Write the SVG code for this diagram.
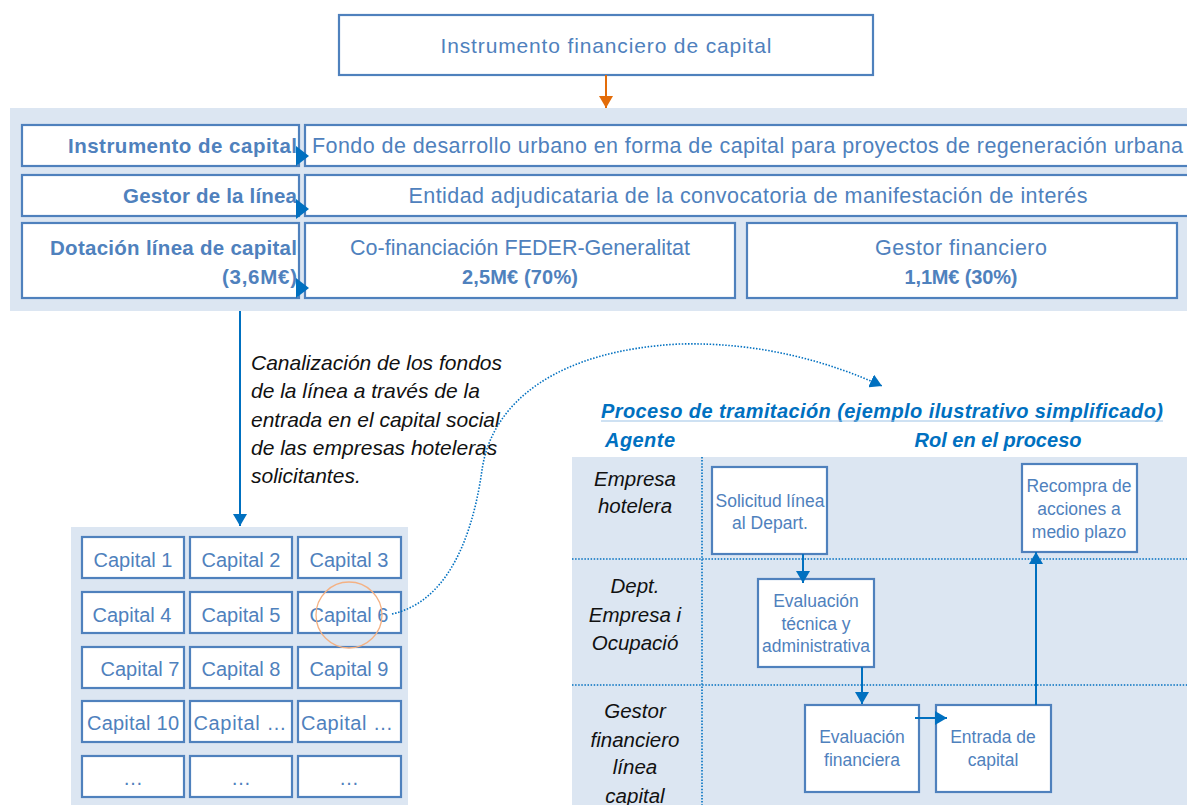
<svg xmlns="http://www.w3.org/2000/svg" width="1187" height="805" viewBox="0 0 1187 805">
<defs>
<style>
.bg{fill:#dce6f2}
.box{fill:#fff;stroke:#4f81bd;stroke-width:2.2}
.t{font-family:"Liberation Sans",Arial,sans-serif;fill:#4f81bd}
.b{font-weight:bold}
.it{font-family:"Liberation Sans",Arial,sans-serif;font-style:italic;fill:#111}
.ti{font-family:"Liberation Sans",Arial,sans-serif;font-style:italic;font-weight:bold;fill:#0070c0}
.cell{font-size:20px}
.pt{font-size:17.5px}
.dot{stroke:#0070c0;stroke-width:1.6;stroke-dasharray:1.5 1.6;fill:none}
.con{stroke:#0070c0;stroke-width:2;fill:none}
</style>
<marker id="ab" viewBox="0 0 12 14" refX="12" refY="7" markerWidth="12" markerHeight="14" markerUnits="userSpaceOnUse" orient="auto"><path d="M0,0 L12,7 L0,14 z" fill="#0070c0"/></marker>
<marker id="ao" viewBox="0 0 12 14" refX="12" refY="7" markerWidth="13" markerHeight="14" markerUnits="userSpaceOnUse" orient="auto"><path d="M0,0 L12,7 L0,14 z" fill="#e36c09"/></marker>
</defs>

<g id="top-node">
<rect class="box" x="339" y="15" width="534" height="60"/>
<text class="t" x="606" y="53" font-size="21" text-anchor="middle" textLength="331">Instrumento financiero de capital</text>
</g>

<g id="header-panel">
<rect class="bg" x="10" y="108" width="1180" height="203"/>
</g>

<g id="row-instrumento">
<rect class="box" x="22" y="125" width="277" height="41"/>
<text class="t b" x="297" y="153" font-size="20.5" text-anchor="end" textLength="229">Instrumento de capital</text>
<rect class="box" x="305" y="125" width="890" height="41"/>
<text class="t" x="312" y="153" font-size="21.5" textLength="871">Fondo de desarrollo urbano en forma de capital para proyectos de regeneración urbana</text>
</g>

<g id="row-gestor">
<rect class="box" x="22" y="175" width="277" height="41"/>
<text class="t b" x="297" y="203" font-size="20.5" text-anchor="end" textLength="174">Gestor de la línea</text>
<rect class="box" x="305" y="175" width="890" height="41"/>
<text class="t" x="748" y="203" font-size="21.5" text-anchor="middle" textLength="679">Entidad adjudicataria de la convocatoria de manifestación de interés</text>
</g>

<g id="row-dotacion">
<rect class="box" x="22" y="223" width="277" height="75"/>
<text class="t b" x="297" y="255" font-size="20.5" text-anchor="end" textLength="247">Dotación línea de capital</text>
<text class="t b" x="297" y="284" font-size="20.5" text-anchor="end" textLength="75">(3,6M€)</text>
</g>

<g id="cofinanciacion">
<rect class="box" x="305" y="223" width="430" height="75"/>
<text class="t" x="520" y="255" font-size="21.5" text-anchor="middle" textLength="340">Co-financiación FEDER-Generalitat</text>
<text class="t b" x="520" y="284" font-size="20" text-anchor="middle" textLength="116">2,5M€ (70%)</text>
</g>

<g id="gestor-financiero">
<rect class="box" x="747" y="223" width="430" height="75"/>
<text class="t" x="961" y="255" font-size="21.5" text-anchor="middle" textLength="172">Gestor financiero</text>
<text class="t b" x="961" y="284" font-size="20" text-anchor="middle" textLength="113">1,1M€ (30%)</text>
</g>

<g id="canalizacion-text">
<text class="it" font-size="21">
<tspan x="251" y="370">Canalización de los fondos</tspan>
<tspan x="251" y="398">de la línea a través de la</tspan>
<tspan x="251" y="427">entrada en el capital social</tspan>
<tspan x="251" y="455">de las empresas hoteleras</tspan>
<tspan x="251" y="483">solicitantes.</tspan>
</text>
</g>

<g id="capital-grid">
<rect class="bg" x="71" y="527" width="337" height="280"/>
<rect class="box" x="82" y="537" width="102" height="41"/><text class="t cell" x="133" y="567" text-anchor="middle">Capital 1</text>
<rect class="box" x="190" y="537" width="102" height="41"/><text class="t cell" x="241" y="567" text-anchor="middle">Capital 2</text>
<rect class="box" x="298" y="537" width="103" height="41"/><text class="t cell" x="349" y="567" text-anchor="middle">Capital 3</text>
<rect class="box" x="82" y="592" width="102" height="41"/><text class="t cell" x="132" y="622" text-anchor="middle">Capital 4</text>
<rect class="box" x="190" y="592" width="102" height="41"/><text class="t cell" x="241" y="622" text-anchor="middle">Capital 5</text>
<rect class="box" x="298" y="592" width="103" height="41"/><text class="t cell" x="349" y="622" text-anchor="middle">Capital 6</text>
<rect class="box" x="82" y="647" width="102" height="41"/><text class="t cell" x="140" y="676" text-anchor="middle">Capital 7</text>
<rect class="box" x="190" y="647" width="102" height="41"/><text class="t cell" x="241" y="676" text-anchor="middle">Capital 8</text>
<rect class="box" x="298" y="647" width="103" height="41"/><text class="t cell" x="349" y="676" text-anchor="middle">Capital 9</text>
<rect class="box" x="82" y="701" width="102" height="41"/><text class="t cell" x="133" y="730" text-anchor="middle" textLength="92">Capital 10</text>
<rect class="box" x="190" y="701" width="102" height="41"/><text class="t cell" x="240" y="730" text-anchor="middle" textLength="93">Capital …</text>
<rect class="box" x="298" y="701" width="103" height="41"/><text class="t cell" x="347" y="730" text-anchor="middle" textLength="92">Capital …</text>
<rect class="box" x="82" y="756" width="102" height="41"/><text class="t cell" x="133" y="785" text-anchor="middle">…</text>
<rect class="box" x="190" y="756" width="102" height="41"/><text class="t cell" x="241" y="785" text-anchor="middle">…</text>
<rect class="box" x="298" y="756" width="103" height="41"/><text class="t cell" x="349" y="785" text-anchor="middle">…</text>
<circle cx="349" cy="615" r="33" fill="none" stroke="#f4b183" stroke-width="1.3"/>
</g>

<g id="process-header">
<text class="ti" x="601" y="418" font-size="20" textLength="562">Proceso de tramitación (ejemplo ilustrativo simplificado)</text>
<line x1="601" y1="421" x2="1163" y2="421" stroke="#9dc3e6" stroke-width="1"/>
<text class="ti" x="605" y="447" font-size="20" textLength="70">Agente</text>
<text class="ti" x="998" y="447" font-size="20" text-anchor="middle" textLength="167">Rol en el proceso</text>
</g>

<g id="process-panel">
<rect class="bg" x="572" y="457" width="620" height="350"/>
<line class="dot" x1="702" y1="457" x2="702" y2="805"/>
<line class="dot" x1="572" y1="559" x2="1187" y2="559"/>
<line class="dot" x1="572" y1="685" x2="1187" y2="685"/>
</g>

<g id="agent-empresa">
<text class="it" font-size="20.5" text-anchor="middle"><tspan x="635" y="486">Empresa</tspan><tspan x="635" y="513">hotelera</tspan></text>
</g>
<g id="agent-dept">
<text class="it" font-size="20.5" text-anchor="middle"><tspan x="635" y="593">Dept.</tspan><tspan x="635" y="622">Empresa i</tspan><tspan x="635" y="650">Ocupació</tspan></text>
</g>
<g id="agent-gestor">
<text class="it" font-size="20.5" text-anchor="middle"><tspan x="635" y="718">Gestor</tspan><tspan x="635" y="747">financiero</tspan><tspan x="635" y="774">línea</tspan><tspan x="635" y="803">capital</tspan></text>
</g>

<g id="solicitud">
<rect class="box" x="712" y="467" width="115" height="87"/>
<text class="t pt" text-anchor="middle"><tspan x="770" y="507">Solicitud línea</tspan><tspan x="770" y="529">al Depart.</tspan></text>
</g>
<g id="evaluacion-tecnica">
<rect class="box" x="758" y="579" width="116" height="88"/>
<text class="t pt" text-anchor="middle"><tspan x="816" y="607">Evaluación</tspan><tspan x="816" y="630">técnica y</tspan><tspan x="816" y="652">administrativa</tspan></text>
</g>
<g id="evaluacion-financiera">
<rect class="box" x="805" y="705" width="114" height="87"/>
<text class="t pt" text-anchor="middle"><tspan x="862" y="743">Evaluación</tspan><tspan x="862" y="766">financiera</tspan></text>
</g>
<g id="entrada-capital">
<rect class="box" x="936" y="705" width="115" height="87"/>
<text class="t pt" text-anchor="middle"><tspan x="993" y="743">Entrada de</tspan><tspan x="993" y="766">capital</tspan></text>
</g>
<g id="recompra">
<rect class="box" x="1022" y="464" width="115" height="88"/>
<text class="t pt" text-anchor="middle"><tspan x="1079" y="492">Recompra de</tspan><tspan x="1079" y="515">acciones a</tspan><tspan x="1079" y="538">medio plazo</tspan></text>
</g>

<g id="connectors">
<line x1="606" y1="75" x2="606" y2="108" stroke="#e36c09" stroke-width="2" marker-end="url(#ao)"/>
<polygon points="296,146 309,156 296,166" fill="#0070c0"/>
<polygon points="296,199 309,209 296,219" fill="#0070c0"/>
<polygon points="296,278 309,288 296,298" fill="#0070c0"/>
<line class="con" x1="240" y1="311" x2="240" y2="526" marker-end="url(#ab)"/>
<path class="dot" d="M392,614 C455,600 475,520 482,470 C492,400 560,350 680,344 C760,342 830,362 882,386" marker-end="url(#ab)"/>
<line class="con" x1="803" y1="554" x2="803" y2="583" marker-end="url(#ab)"/>
<line class="con" x1="862" y1="667" x2="862" y2="704" marker-end="url(#ab)"/>
<line class="con" x1="915" y1="718" x2="947" y2="718" marker-end="url(#ab)"/>
<line class="con" x1="1036" y1="705" x2="1036" y2="552" marker-end="url(#ab)"/>
</g>
</svg>
